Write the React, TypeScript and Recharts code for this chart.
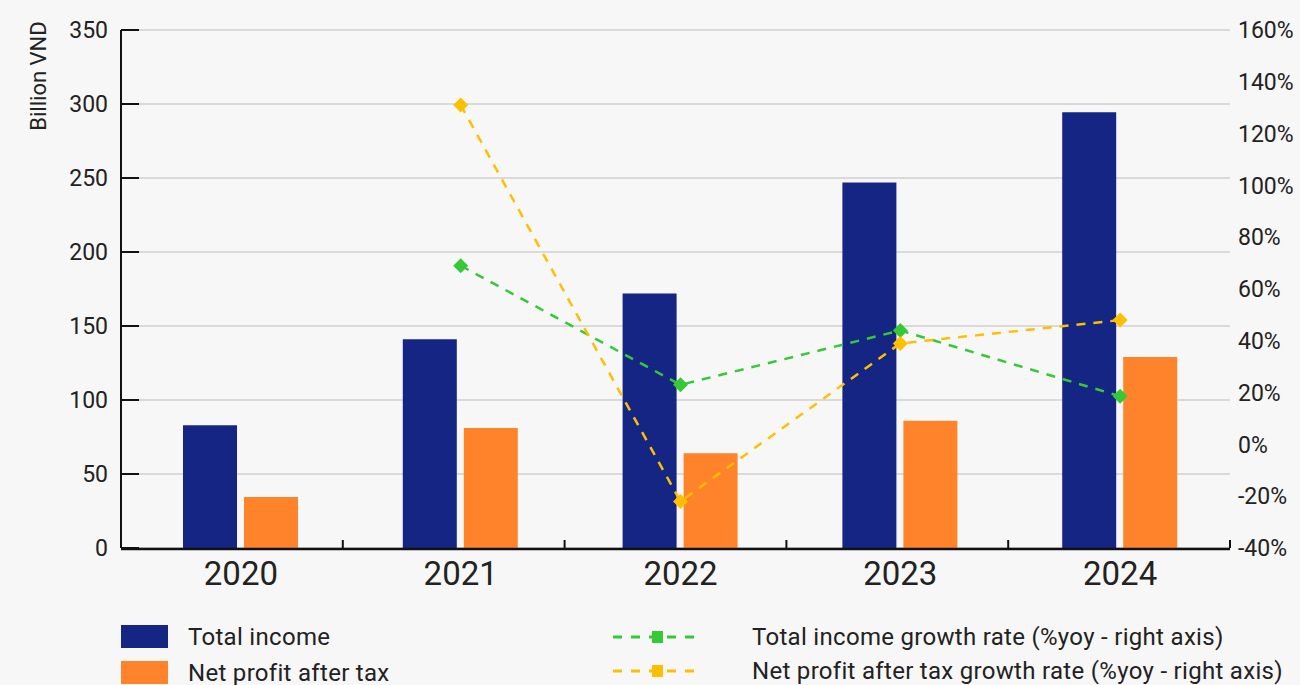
import React from "react";
import {
  ComposedChart,
  Bar,
  Line,
  XAxis,
  YAxis,
  CartesianGrid,
} from "recharts";

const years = ["2020", "2021", "2022", "2023", "2024"];
const totalIncome = [83, 141, 172, 247, 294.5];
const netProfit = [34.5, 81, 64, 86, 129];
const incomeGrowth = [null, 69, 23, 44, 18.6];
const profitGrowth = [null, 131, -22, 39, 48];

const leftTicks = [0, 50, 100, 150, 200, 250, 300, 350];
const rightTicks = [-40, -20, 0, 20, 40, 60, 80, 100, 120, 140, 160];
const boundaryTicks = [1, 2, 3, 4, 5];

const BLUE = "#142583";
const ORANGE = "#ff832b";
const GREEN = "#36c936";
const YELLOW = "#ffbf00";
const FONT = "Roboto, sans-serif";
const TEXT = "#222";

const chartData = years.map((year, i) => ({
  year,
  income: totalIncome[i],
  profit: netProfit[i],
  incomeGrowth: incomeGrowth[i],
  profitGrowth: profitGrowth[i],
  slot: i + 0.5,
}));

const diamond = (color: string) => (props: any) => {
  const { cx, cy, index } = props;
  if (cx == null || cy == null || props.value == null) return <g key={index} />;
  const r = 7.5;
  return (
    <polygon
      key={index}
      points={`${cx},${cy - r} ${cx + r},${cy} ${cx},${cy + r} ${cx - r},${cy}`}
      fill={color}
    />
  );
};

const LegendSwatch = ({ color }: { color: string }) => (
  <div style={{ width: 47, height: 23, background: color }} />
);

const LegendLine = ({ color }: { color: string }) => (
  <svg width={90} height={14}>
    <line
      x1={1}
      y1={7}
      x2={90}
      y2={7}
      stroke={color}
      strokeWidth={3}
      strokeDasharray="9 9"
    />
    <rect x={40} y={1} width={11} height={12} fill={color} />
  </svg>
);

const legendText: React.CSSProperties = {
  fontFamily: FONT,
  fontSize: 24,
  letterSpacing: 0.3,
  lineHeight: "28px",
  color: TEXT,
  whiteSpace: "nowrap",
};

export default function App() {
  return (
    <div
      style={{
        position: "absolute",
        left: 0,
        top: 0,
        width: 1300,
        height: 685,
        background: "#f7f7f7",
        overflow: "hidden",
      }}
    >
      <ComposedChart
        width={1300}
        height={685}
        data={chartData}
        margin={{ top: 30, right: 0, bottom: 76, left: 0 }}
        barSize={54}
        barGap={7}
      >
        <CartesianGrid
          xAxisId="b"
          yAxisId="left"
          vertical={false}
          stroke="#dadada"
          strokeWidth={2}
        />
        <XAxis
          xAxisId="a"
          type="number"
          dataKey="slot"
          domain={[0, 5]}
          ticks={boundaryTicks}
          height={1}
          axisLine={false}
          tickSize={-8}
          tickLine={{ stroke: "#111", strokeWidth: 2 }}
          tickFormatter={() => ""}
        />
        <XAxis
          xAxisId="b"
          dataKey="year"
          height={60}
          padding={{ left: 10, right: 0 }}
          axisLine={{ stroke: "#111", strokeWidth: 2.5 }}
          tickLine={false}
          tickSize={0}
          tickMargin={13}
          tick={{ fill: TEXT, fontSize: 33, fontFamily: FONT }}
        />
        <YAxis
          yAxisId="left"
          width={121}
          domain={[0, 350]}
          ticks={leftTicks}
          interval={0}
          axisLine={{ stroke: "#111", strokeWidth: 2 }}
          tickLine={{ stroke: "#111", strokeWidth: 2 }}
          tickSize={-18}
          tickMargin={31}
          tick={{ fill: TEXT, fontSize: 23, fontFamily: FONT }}
          label={{
            content: () => (
              <text
                x={46}
                y={76}
                transform="rotate(-90 46 76)"
                textAnchor="middle"
                fill={TEXT}
                fontSize={22}
                fontFamily={FONT}
              >
                Billion VND
              </text>
            ),
          }}
        />
        <YAxis
          yAxisId="right"
          orientation="right"
          width={70}
          domain={[-40, 160]}
          ticks={rightTicks}
          interval={0}
          axisLine={false}
          tickLine={false}
          tickSize={0}
          tickMargin={8}
          tickFormatter={(v: number) => `${v}%`}
          tick={{ fill: TEXT, fontSize: 23, fontFamily: FONT }}
        />
        <Bar
          xAxisId="b"
          yAxisId="left"
          dataKey="income"
          fill={BLUE}
          isAnimationActive={false}
        />
        <Bar
          xAxisId="b"
          yAxisId="left"
          dataKey="profit"
          fill={ORANGE}
          isAnimationActive={false}
        />
        <Line
          xAxisId="b"
          yAxisId="right"
          dataKey="incomeGrowth"
          stroke={GREEN}
          strokeWidth={2.5}
          strokeDasharray="9 8"
          dot={diamond(GREEN)}
          activeDot={false}
          isAnimationActive={false}
        />
        <Line
          xAxisId="b"
          yAxisId="right"
          dataKey="profitGrowth"
          stroke={YELLOW}
          strokeWidth={2.5}
          strokeDasharray="9 8"
          dot={diamond(YELLOW)}
          activeDot={false}
          isAnimationActive={false}
        />
      </ComposedChart>

      <div
        style={{
          position: "absolute",
          left: 121,
          top: 625,
          display: "flex",
          flexDirection: "column",
          gap: 13,
        }}
      >
        <div style={{ display: "flex", alignItems: "center", gap: 20, height: 23 }}>
          <LegendSwatch color={BLUE} />
          <span style={legendText}>Total income</span>
        </div>
        <div style={{ display: "flex", alignItems: "center", gap: 20, height: 23 }}>
          <LegendSwatch color={ORANGE} />
          <span style={legendText}>Net profit after tax</span>
        </div>
      </div>

      <div
        style={{
          position: "absolute",
          left: 612,
          top: 623,
          display: "flex",
          flexDirection: "column",
          gap: 6,
        }}
      >
        <div style={{ display: "flex", alignItems: "center", gap: 50 }}>
          <LegendLine color={GREEN} />
          <span style={legendText}>
            Total income growth rate (%yoy - right axis)
          </span>
        </div>
        <div style={{ display: "flex", alignItems: "center", gap: 50 }}>
          <LegendLine color={YELLOW} />
          <span style={legendText}>
            Net profit after tax growth rate (%yoy - right axis)
          </span>
        </div>
      </div>
    </div>
  );
}
